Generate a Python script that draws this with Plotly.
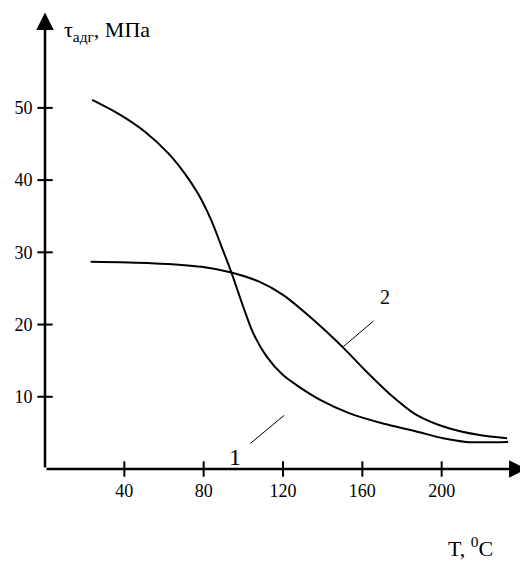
import plotly.graph_objects as go

# Curve 1 (steep decline)
t1 = [23.8, 36.9, 50.4, 62.2, 70.5, 77.2, 83.9, 89.0, 94.0, 99.9, 105.0, 111.7, 120.0, 128.5, 138.5, 153.6, 170.4, 187.3, 200.7, 212.4, 233.5]
tau1 = [51.1, 49.2, 46.7, 43.7, 40.9, 38.1, 34.4, 30.8, 27.2, 22.5, 18.8, 15.6, 13.0, 11.3, 9.6, 7.7, 6.3, 5.2, 4.25, 3.75, 3.75]

# Curve 2 (plateau then decline)
t2 = [23.0, 53.7, 78.9, 94.0, 108.3, 120.0, 131.8, 142.0, 151.1, 162.0, 173.8, 187.3, 204.0, 219.1, 233.0]
tau2 = [28.7, 28.5, 28.0, 27.2, 25.9, 24.1, 21.5, 19.0, 16.6, 13.5, 10.4, 7.5, 5.6, 4.7, 4.25]

x_ticks = [40, 80, 120, 160, 200]
y_ticks = [10, 20, 30, 40, 50]

x_max = 240
y_max = 63

FONT = "Liberation Serif, Times New Roman, serif"

fig = go.Figure()

fig.add_trace(go.Scatter(x=t1, y=tau1, mode="lines", line=dict(color="black", width=2, shape="spline", smoothing=0.8),
                         hoverinfo="skip", showlegend=False))
fig.add_trace(go.Scatter(x=t2, y=tau2, mode="lines", line=dict(color="black", width=2, shape="spline", smoothing=0.8),
                         hoverinfo="skip", showlegend=False))

# leader lines
fig.add_trace(go.Scatter(x=[103.6, 120.6], y=[3.55, 7.43], mode="lines", line=dict(color="black", width=1),
                         hoverinfo="skip", showlegend=False))
fig.add_trace(go.Scatter(x=[165.7, 149.8], y=[20.5, 16.8], mode="lines", line=dict(color="black", width=1),
                         hoverinfo="skip", showlegend=False))

# crossing tick marks
fig.add_trace(go.Scatter(x=x_ticks, y=[0] * len(x_ticks), mode="markers", cliponaxis=False,
                         marker=dict(symbol="line-ns", size=11, line=dict(color="black", width=2)),
                         hoverinfo="skip", showlegend=False))
fig.add_trace(go.Scatter(x=[0] * len(y_ticks), y=y_ticks, mode="markers", cliponaxis=False,
                         marker=dict(symbol="line-ew", size=11, line=dict(color="black", width=2)),
                         hoverinfo="skip", showlegend=False))

# page body adds an 8px offset; figure sized to fit the visible window
OFF = 8
W, H = 528 - OFF, 574 - OFF
ml, mr, mt, mb = 45 - OFF, 6.6, 13.5 - OFF, 105
pw, ph = W - ml - mr, H - mt - mb

annotations = [
    # axes with arrow heads
    dict(x=242.8, y=0, ax=0, ay=0, xref="x", yref="y", axref="x", ayref="y", text="", showarrow=True,
         arrowhead=2, arrowsize=1.4, arrowwidth=2.5, arrowcolor="black", standoff=0, startstandoff=0),
    dict(x=0, y=63.2, ax=0, ay=0, xref="x", yref="y", axref="x", ayref="y", text="", showarrow=True,
         arrowhead=2, arrowsize=1.4, arrowwidth=2.5, arrowcolor="black", standoff=0, startstandoff=0),
    dict(x=8.4, y=60.6, xref="x", yref="y", text="τ<sub>адг</sub>, МПа", showarrow=False,
         xanchor="left", yanchor="middle", font=dict(family=FONT, size=22, color="black")),
    dict(x=(495 - OFF - ml) / pw, y=(H - mb - (563 - OFF)) / ph, xref="paper", yref="paper",
         text="T, <sup>0</sup>C", showarrow=False, font=dict(family=FONT, size=22, color="black")),
    dict(x=96, y=1.6, xref="x", yref="y", text="1", showarrow=False,
         font=dict(family=FONT, size=24, color="black")),
    dict(x=171.6, y=23.8, xref="x", yref="y", text="2", showarrow=False,
         font=dict(family=FONT, size=20, color="black")),
]

fig.update_layout(
    template="none",
    width=W, height=H,
    margin=dict(l=ml, r=mr, t=mt, b=mb, pad=0),
    paper_bgcolor="white", plot_bgcolor="white",
    font=dict(family=FONT, size=18, color="black"),
    annotations=annotations,
    xaxis=dict(range=[0, x_max], tickvals=x_ticks, ticktext=[str(v) for v in x_ticks],
               showgrid=False, zeroline=False, showline=False, automargin=False,
               ticks="outside", ticklen=5, tickcolor="rgba(0,0,0,0)",
               tickfont=dict(family=FONT, size=18, color="black")),
    yaxis=dict(range=[0, y_max], tickvals=y_ticks, ticktext=[str(v) for v in y_ticks],
               showgrid=False, zeroline=False, showline=False, automargin=False,
               ticks="outside", ticklen=8, tickcolor="rgba(0,0,0,0)",
               tickfont=dict(family=FONT, size=18, color="black")),
)

fig.write_html("out.html")
